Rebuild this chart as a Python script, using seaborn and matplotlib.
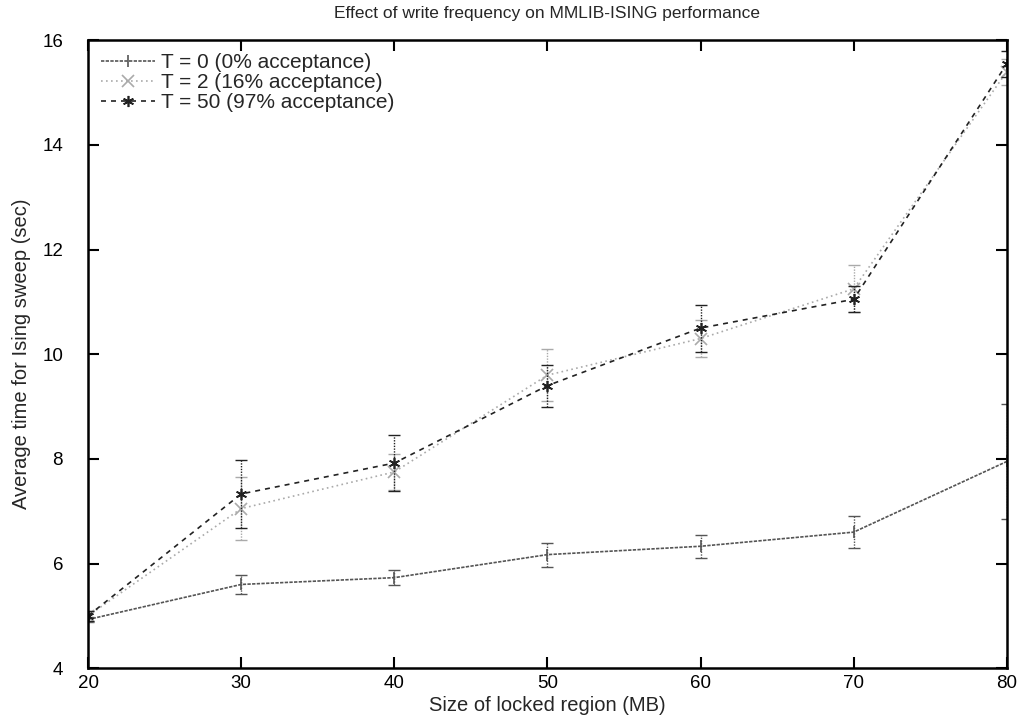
import pandas as pd
import matplotlib.pyplot as plt
import seaborn as sns

# values
sizes = [20, 30, 40, 50, 60, 70, 80]
t0_mean = [4.93, 5.60, 5.73, 6.17, 6.33, 6.60, 7.95]
t0_err = [0.05, 0.18, 0.14, 0.23, 0.22, 0.30, 1.10]
t2_mean = [5.00, 7.05, 7.75, 9.60, 10.30, 11.25, 15.40]
t2_err = [0.10, 0.60, 0.35, 0.50, 0.35, 0.45, 0.25]
t50_mean = [5.00, 7.33, 7.92, 9.40, 10.50, 11.05, 15.55]
t50_err = [0.10, 0.65, 0.53, 0.40, 0.45, 0.25, 0.25]
labels = ["T = 0 (0% acceptance)", "T = 2 (16% acceptance)", "T = 50 (97% acceptance)"]

df = pd.DataFrame({
    "size": sizes * 3,
    "time": t0_mean + t2_mean + t50_mean,
    "err": t0_err + t2_err + t50_err,
    "series": [labels[0]] * 7 + [labels[1]] * 7 + [labels[2]] * 7,
})

sns.set_style("ticks")
plt.rcParams["font.family"] = ["Liberation Sans", "DejaVu Sans"]

fig = plt.figure(figsize=(10.18, 7.2), dpi=100)
ax = fig.add_axes([0.0865, 0.072, 0.9025, 0.872])

colors = {labels[0]: "#555555", labels[1]: "#aaaaaa", labels[2]: "#222222"}
styles = {labels[0]: (0, (2, 0.8)), labels[1]: (0, (1, 2)), labels[2]: (0, (3, 3))}
markers = {labels[0]: "|", labels[1]: "x", labels[2]: (6, 2, 0)}

for lab in labels:
    sub = df[df["series"] == lab]
    sns.lineplot(data=sub, x="size", y="time", ax=ax, color=colors[lab],
                 linestyle=styles[lab], marker=markers[lab], markersize=8,
                 markeredgewidth=1.2, markeredgecolor=colors[lab],
                 linewidth=1.2, label=lab)
    eb = ax.errorbar(sub["size"], sub["time"], yerr=sub["err"], fmt="none",
                     ecolor=colors[lab], elinewidth=1.0, capsize=4, capthick=1.0)
    eb[2][0].set_linestyle((0, (1, 1)))

ax.set_xlim(20, 80)
ax.set_ylim(4, 16)
ax.set_xticks(sizes)
ax.set_yticks([4, 6, 8, 10, 12, 14, 16])
ax.tick_params(direction="in", length=8, width=1.5, labelsize=13.5,
               top=True, right=True, colors="black")
ax.tick_params(axis="x", pad=5)
ax.tick_params(axis="y", pad=18)
for s in ax.spines.values():
    s.set_linewidth(1.8)
    s.set_color("black")
    s.set_visible(True)

ax.set_xlabel("Size of locked region (MB)", fontsize=14.5)
ax.set_ylabel("Average time for Ising sweep (sec)", fontsize=14.5)
ax.yaxis.set_label_coords(-0.062, 0.5)
ax.xaxis.set_label_coords(0.5, -0.045)
ax.set_title("Effect of write frequency on MMLIB-ISING performance",
             fontsize=12.5, pad=16)

ax.legend(loc="upper left", frameon=False, fontsize=15, handlelength=2.6,
          borderaxespad=0.2, labelspacing=0.05, handletextpad=0.3,
          borderpad=0.4)

fig.savefig("out.png", dpi=100)
